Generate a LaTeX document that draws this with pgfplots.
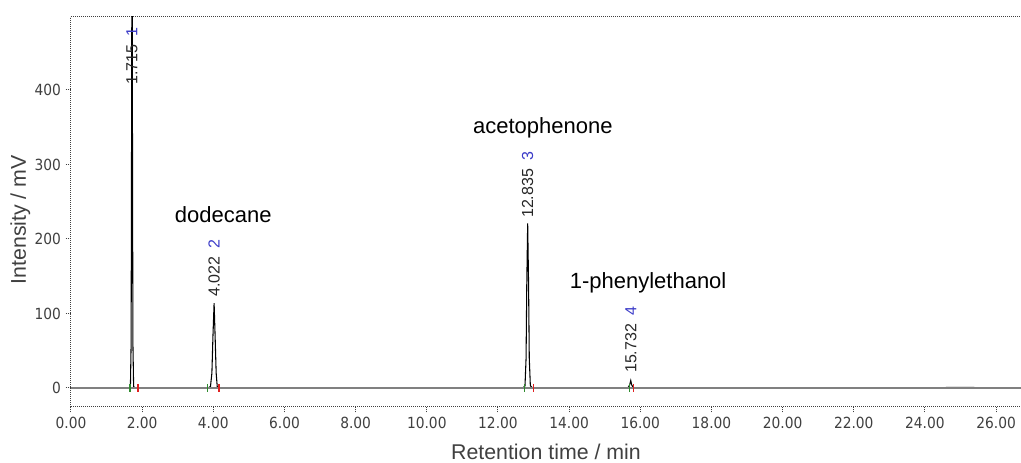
\documentclass[border=0pt]{standalone}
\usepackage{pgfplots}
\pgfplotsset{compat=1.18}
\usepackage{fontspec}
\setmainfont{Liberation Sans}
\newfontfamily\tickfont{DejaVu Sans Condensed}
\definecolor{axisgray}{HTML}{404040}
\definecolor{peakblue}{HTML}{3C3CC8}
\definecolor{startgreen}{HTML}{2E8B2E}
\definecolor{endred}{HTML}{E02020}

\begin{document}
\begin{tikzpicture}
\path[use as bounding box] (-53.25pt,-42pt) rectangle (712.5pt,305.25pt);
\begin{axis}[
  scale only axis, width=712.5pt, height=292.5pt,
  xmin=0, xmax=26.7, ymin=-25.5, ymax=498,
  axis x line*=box, axis y line*=left,
  xtick pos=bottom, ytick pos=left,
  xtick={0,2,...,26}, ytick={0,100,...,400},
  tick align=outside, major tick length=4pt,
  every tick/.style={axisgray, dash pattern=on 0.75pt off 0.75pt, line width=0.75pt},
  axis line style={axisgray, dash pattern=on 0.75pt off 0.75pt, line width=0.75pt},
  x tick label style={/pgf/number format/fixed, /pgf/number format/fixed zerofill,
    /pgf/number format/precision=2},
  /pgf/number format/assume math mode=true,
  tick label style={font=\tickfont\fontsize{11.5}{13}\selectfont, text=axisgray},
  label style={font=\fontsize{16}{19}\selectfont, text=axisgray},
  xlabel={Retention time / min}, ylabel={Intensity / mV},
  xlabel style={at={(axis description cs:0.5,-0.116)}, anchor=center},
  ylabel style={at={(axis description cs:-0.0533,0.48)}, anchor=center},
]
% chromatogram trace
\addplot[black, line width=0.8pt] coordinates {
  (0,0) (1.62,0) (1.67,2) (1.69,60) (1.705,400) (1.715,650) (1.725,400) (1.74,60) (1.76,2) (1.80,0)
  (3.85,0) (3.92,2) (3.96,20) (3.99,70) (4.022,114) (4.05,70) (4.08,20) (4.11,2) (4.18,0)
  (12.70,0) (12.76,3) (12.79,40) (12.81,140) (12.835,221) (12.86,140) (12.88,40) (12.91,3) (12.97,0)
  (15.65,0) (15.70,4) (15.732,10) (15.76,4) (15.81,0)
  (24.2,0) (24.7,0.8) (25.3,0.8) (25.7,0) (26.7,0)};
% integration baseline
\addplot[gray, line width=1.5pt] coordinates {(0,0) (26.7,0)};
% peak start / end marks
\addplot[only marks, mark=|, mark size=3pt, startgreen, line width=1pt]
  coordinates {(1.66,0) (3.84,0) (12.74,0) (15.70,0)};
\addplot[only marks, mark=|, mark size=3pt, endred, line width=1pt]
  coordinates {(1.88,0) (4.16,0) (13.00,0) (15.80,0)};
% peak labels
\begin{scope}[every node/.style={rotate=90, anchor=west, inner sep=0pt,
    font=\fontsize{12}{14}\selectfont, text=black!85}]
\node at (axis cs:1.715,407) {1.715\hspace{6pt}\textcolor{peakblue}{1}};
\node at (axis cs:4.022,122) {4.022\hspace{6pt}\textcolor{peakblue}{2}};
\node at (axis cs:12.835,228) {12.835\hspace{6pt}\textcolor{peakblue}{3}};
\node at (axis cs:15.732,20) {15.732\hspace{6pt}\textcolor{peakblue}{4}};
\end{scope}
% compound names
\begin{scope}[every node/.style={anchor=base, inner sep=0pt, font=\fontsize{16.5}{19}\selectfont}]
\node at (axis cs:4.28,221.5) {dodecane};
\node at (axis cs:13.26,342) {acetophenone};
\node at (axis cs:16.22,134) {1-phenylethanol};
\end{scope}
\end{axis}
\end{tikzpicture}
\end{document}
